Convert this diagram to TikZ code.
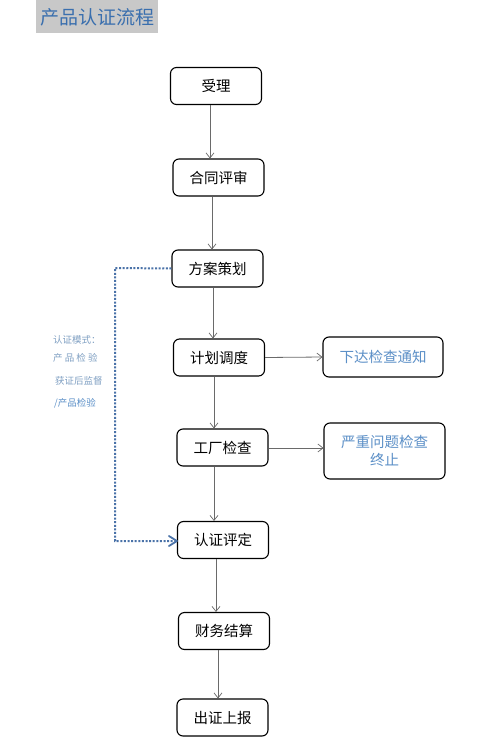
\documentclass[tikz,border=0pt]{standalone}
\usepackage{fontspec}
\newfontfamily\cjk{Noto Sans CJK SC}
\usetikzlibrary{arrows.meta,calc}
\definecolor{titlebg}{HTML}{C8C8C8}
\definecolor{titlefg}{HTML}{3A6FAE}
\definecolor{lightblue}{HTML}{5B8FC7}
\definecolor{greyblue}{HTML}{7F9FC2}
\definecolor{dotblue}{HTML}{4A72A8}
\definecolor{arrgrey}{HTML}{6A6A6A}
\tikzset{
  stepbox/.style={draw=black, line width=1.1pt, rounded corners=6pt, fill=white,
    minimum width=91pt, minimum height=37pt, inner sep=2pt, align=center,
    font=\cjk\fontsize{14.5}{18}\selectfont},
  sidebox/.style={stepbox, minimum width=120pt, text=lightblue},
  flow/.style={draw=arrgrey, line width=0.8pt, -{Straight Barb[length=5pt,width=8pt,line width=0.7pt]}},
  loopline/.style={draw=dotblue, line width=2pt, dash pattern=on 2pt off 1.6pt, line cap=butt},
  note/.style={anchor=west, inner sep=0pt, font=\cjk\fontsize{9.5}{11}\selectfont}
}
\begin{document}
\begin{tikzpicture}[x=1pt,y=-1pt]
\useasboundingbox (0,0) rectangle (492,744);
% title
\fill[titlebg] (36,0) rectangle (158,33);
\node[anchor=center, inner sep=0pt, text=titlefg, font=\cjk\fontsize{19}{21}\selectfont] (title) at (97,17) {产品认证流程};
% main boxes
\node[stepbox] (a) at (216,86) {受理};
\node[stepbox] (b) at (218.5,177.5) {合同评审};
\node[stepbox] (c) at (217.5,268.5) {方案策划};
\node[stepbox] (d) at (219,357.5) {计划调度};
\node[stepbox] (e) at (222.5,447.5) {工厂检查};
\node[stepbox] (f) at (223,540) {认证评定};
\node[stepbox] (g) at (224,631) {财务结算};
\node[stepbox] (h) at (222.5,717.5) {出证上报};
% side boxes
\node[sidebox, minimum height=40pt] (s1) at (383,357) {下达检查通知};
\node[sidebox, minimum height=56pt, minimum width=121pt] (s2) at (384.5,451) {严重问题检查\\终止};
% flow arrows
\draw[flow] (a.south -| 210,0) -- (b.north -| 210,0);
\draw[flow] (b.south -| 212,0) -- (c.north -| 212,0);
\draw[flow] (c.south -| 213,0) -- (d.north -| 213,0);
\draw[flow] (d.south -| 214,0) -- (e.north -| 214,0);
\draw[flow] (e.south -| 214,0) -- (f.north -| 214,0);
\draw[flow] (f.south -| 216,0) -- (g.north -| 216,0);
\draw[flow] (g.south -| 218,0) -- (h.north -| 218,0);
\draw[flow] (d.east) -- (s1.west);
\draw[flow] (e.east |- 0,448) -- (s2.west |- 0,448);
% dotted loop
\coordinate (l1) at (115,268);
\coordinate (l2) at (115,541);
\coordinate (l3) at (f.west |- l2);
\draw[loopline] (c.west) -- (l1) -- (l2) -- (l3);
\draw[draw=dotblue, line width=1.8pt, line cap=round, line join=round] ($(l3)+(-8,-5)$) -- (l3) -- ($(l3)+(-8,5)$);
% notes
\node[note, text=greyblue] (n1) at (53,340) {认证模式：};
\node[note, text=greyblue] (n2) at (53,358) {产 品 检 验};
\node[note, text=greyblue] (n3) at (55,381) {获证后监督};
\node[note, text=lightblue] (n4) at (54,403) {/产品检验};
\end{tikzpicture}
\end{document}
